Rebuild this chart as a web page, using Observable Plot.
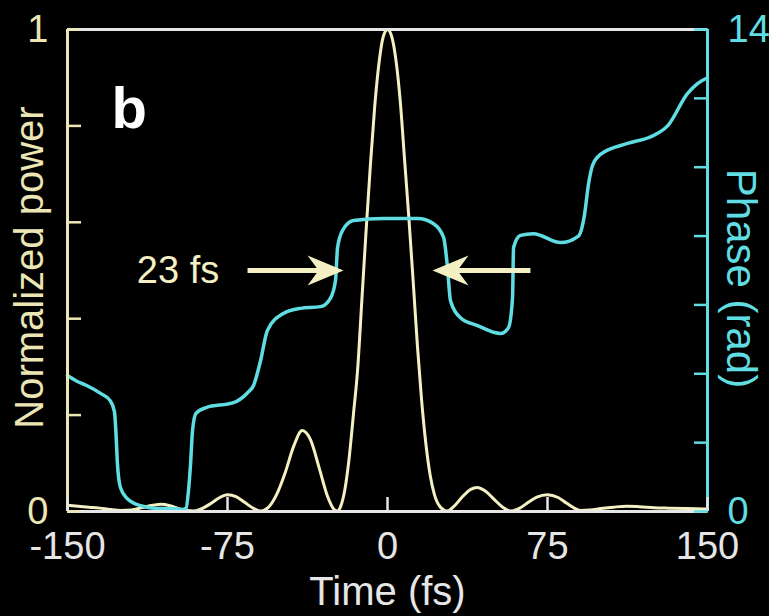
<!DOCTYPE html>
<html><head><meta charset="utf-8">
<script src="https://cdn.jsdelivr.net/npm/d3@7"></script>
<script src="https://cdn.jsdelivr.net/npm/@observablehq/plot@0.6"></script>
<style>
html,body{margin:0;padding:0;background:#000;}
#chart svg{display:block;}
</style></head><body><div id="chart"></div>
<script>
// ---- data ----
const powerTime  = [-150,-145,-140,-135,-130,-125,-120,-115,-110,-106,-102,-98,-94,-91,-87,-83,-79,-75,-71,-67,-63,-59.5,-56,-52,-48,-44,-40,-36,-32,-28,-25,-23.5,-22,-20,-18,-16,-14,-12,-10,-8,-6,-4,-2,0,2,4,6,8,10,12,14,16,18,20,22,25,28,31,35,39,42,46,50,54,57.7,62,66,70,75,80,84,88,90.5,95,100,106,112,118,125,132,140,150];
const powerValue = [0.013,0.011,0.009,0.007,0.004,0.002,0.003,0.008,0.013,0.015,0.012,0.006,0.002,0.001,0.006,0.016,0.028,0.035,0.031,0.019,0.007,0.001,0.008,0.035,0.08,0.135,0.168,0.148,0.09,0.03,0.004,0.001,0.01,0.045,0.11,0.2,0.295,0.44,0.585,0.72,0.84,0.93,0.985,1.0,0.985,0.935,0.85,0.73,0.61,0.48,0.345,0.23,0.14,0.075,0.035,0.008,0.001,0.01,0.03,0.046,0.05,0.042,0.025,0.009,0.001,0.007,0.019,0.03,0.035,0.029,0.017,0.006,0.002,0.003,0.006,0.009,0.011,0.010,0.008,0.007,0.006,0.005];

const phaseTime  = [-150,-146,-141,-134.5,-130,-128,-127.3,-126.6,-125.2,-121.9,-115.8,-108,-100,-96,-94.4,-93.3,-92.3,-91.4,-89.8,-85,-72.2,-65.6,-62.8,-59.5,-56.3,-48.8,-40.8,-31.4,-26.7,-24.4,-23.4,-21.1,-15.9,-1.9,14.1,21.6,26.3,28.1,29.5,34.2,42.2,53.0,56.7,58.6,59.1,62.3,68.4,81.1,89.5,92.3,94.2,96.1,99.8,112.5,124.7,131.3,140.6,145.3,150];
const phaseValue = [3.95,3.8,3.66,3.43,3.22,2.9,2.3,1.4,0.7,0.37,0.17,0.09,0.08,0.06,0.1,0.6,1.4,2.35,2.85,3.02,3.16,3.45,3.66,4.38,5.26,5.75,5.9,5.95,6.2,6.7,7.67,8.16,8.45,8.51,8.51,8.36,7.96,7.1,6.13,5.63,5.4,5.17,5.34,6.2,7.67,8.02,8.07,7.81,8.0,8.6,9.5,10.05,10.37,10.69,10.92,11.2,12.14,12.43,12.6];

const xTicks = [-150, -75, 0, 75, 150];
const powerTicks = [0, 0.2, 0.4, 0.6, 0.8, 1];
const powerLabels = [0, 1];
const phaseTicks = [0, 2, 4, 6, 8, 10, 12, 14];
const phaseLabels = [0, 14];
const phaseMax = 14;

const panelLabel = [{t: -129.4, p: 0.795, text: "b"}];
const fwhmLabel = [{t: -98.2, p: 0.5, text: "23 fs"}];
const arrowRight = [{from: -65.6, to: -31.5, tip: -20.6, level: 0.5}];
const arrowLeft  = [{from: 67, to: 32, tip: 21.1, level: 0.5}];

// ---- styles ----
const cream = "#f4f0c4";
const creamAxis = "#ebe6b4";
const cyan = "#5fdde2";
const white = "#e6e6e6";
const font = "'Liberation Sans', Arial, Helvetica, sans-serif";

const powerData = powerTime.map((t, i) => ({t, p: powerValue[i]}));
const phaseData = phaseTime.map((t, i) => ({t, p: phaseValue[i] / phaseMax}));

const headR = {draw(ctx) { ctx.moveTo(0, 0); ctx.lineTo(-36, -15); ctx.lineTo(-25, 0); ctx.lineTo(-36, 15); ctx.closePath(); }};
const headL = {draw(ctx) { ctx.moveTo(0, 0); ctx.lineTo(36, -15); ctx.lineTo(25, 0); ctx.lineTo(36, 15); ctx.closePath(); }};

const chart = Plot.plot({
  width: 769,
  height: 616,
  marginLeft: 67,
  marginRight: 62,
  marginTop: 29,
  marginBottom: 105,
  style: {background: "#000", fontFamily: font, color: white},
  x: {domain: [-150, 150], label: null},
  y: {domain: [0, 1], label: null},
  marks: [
    // curves
    Plot.line(powerData, {x: "t", y: "p", stroke: cream, strokeWidth: 3, curve: "monotone-x"}),
    Plot.line(phaseData, {x: "t", y: "p", stroke: cyan, strokeWidth: 3.5, curve: "monotone-x"}),
    // frame lines
    Plot.ruleY([1], {stroke: white, strokeWidth: 3}),
    Plot.ruleY([0], {stroke: white, strokeWidth: 3}),
    Plot.ruleX([-150], {stroke: creamAxis, strokeWidth: 3}),
    Plot.ruleX([150], {stroke: cyan, strokeWidth: 3}),
    // x axis
    Plot.axisX(xTicks, {anchor: "bottom", tickSize: -14, tickPadding: 35, fontSize: 38, stroke: white, fill: white, strokeWidth: 2.5, tickFormat: d => String(d), label: null}),
    // left axis
    Plot.axisY(powerTicks, {anchor: "left", tickSize: -14, tickFormat: () => "", stroke: creamAxis, strokeWidth: 2.5, label: null}),
    Plot.axisY(powerLabels, {anchor: "left", tickSize: 0, tickPadding: 19, fontSize: 38, fill: creamAxis, stroke: "none", tickFormat: d => String(d), label: null}),
    // right axis (phase mapped onto power scale)
    Plot.axisY(phaseTicks.map(d => d / phaseMax), {anchor: "right", tickSize: -14, tickFormat: () => "", stroke: cyan, strokeWidth: 2.5, label: null}),
    Plot.axisY(phaseLabels.map(d => d / phaseMax), {anchor: "right", tickSize: 0, tickPadding: 20, fontSize: 38, fill: cyan, stroke: "none", tickFormat: d => String(Math.round(d * phaseMax)), label: null}),
    // axis titles
    Plot.text(["Normalized power"], {frameAnchor: "left", rotate: -90, dx: -37, dy: -3, fontSize: 40, fill: creamAxis, textAnchor: "middle", lineAnchor: "middle"}),
    Plot.text(["Phase (rad)"], {frameAnchor: "right", rotate: 90, dx: 33, dy: 8, fontSize: 42, fill: cyan, textAnchor: "middle", lineAnchor: "middle"}),
    Plot.text(["Time (fs)"], {frameAnchor: "bottom", dy: 81, fontSize: 40, fill: white, textAnchor: "middle", lineAnchor: "middle"}),
    // annotations
    Plot.text(panelLabel, {x: "t", y: "p", text: "text", fontSize: 58, fontWeight: "bold", fill: "#ffffff", textAnchor: "start", lineAnchor: "bottom"}),
    Plot.text(fwhmLabel, {x: "t", y: "p", text: "text", fontSize: 38, fill: cream, textAnchor: "middle", lineAnchor: "middle"}),
    Plot.link(arrowRight, {x1: "from", x2: "to", y1: "level", y2: "level", stroke: cream, strokeWidth: 5}),
    Plot.link(arrowLeft, {x1: "from", x2: "to", y1: "level", y2: "level", stroke: cream, strokeWidth: 5}),
    Plot.dot(arrowRight, {x: "tip", y: "level", symbol: headR, fill: cream, stroke: "none", r: 10}),
    Plot.dot(arrowLeft, {x: "tip", y: "level", symbol: headL, fill: cream, stroke: "none", r: 10})
  ]
});
document.getElementById("chart").appendChild(chart);
</script>
</body></html>
